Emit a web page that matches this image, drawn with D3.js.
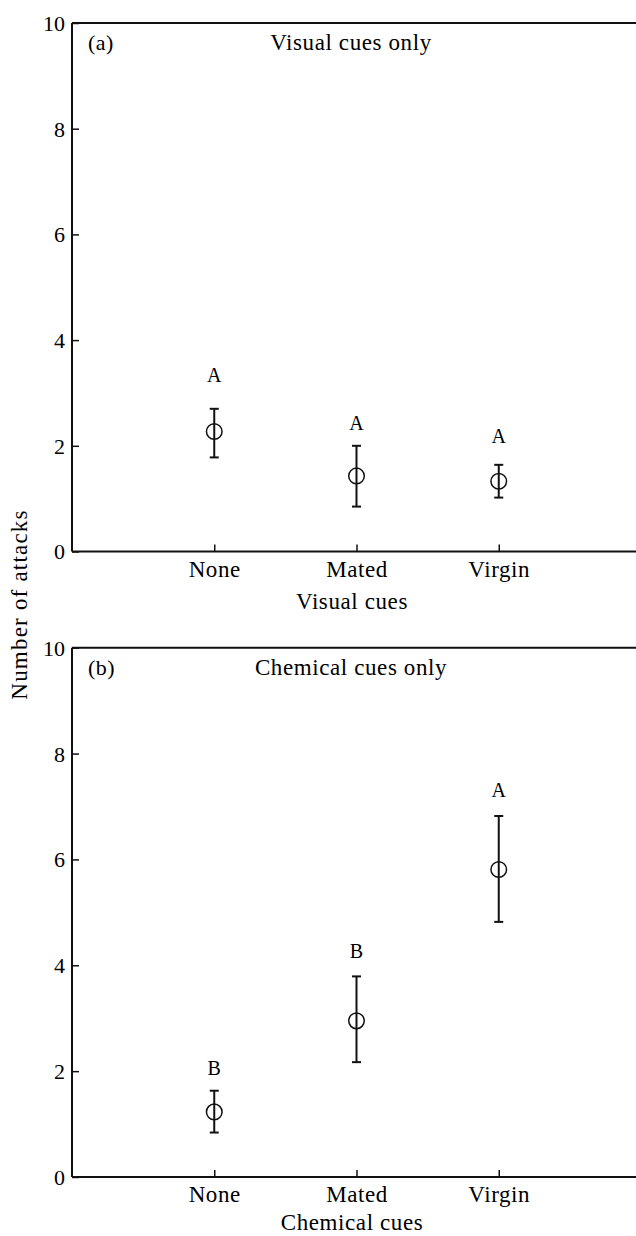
<!DOCTYPE html>
<html>
<head>
<meta charset="utf-8">
<script src="https://cdn.jsdelivr.net/npm/d3@7"></script>
<style>
  html, body { margin: 0; padding: 0; background: #fff; }
  svg { display: block; }
  text { font-family: "Liberation Serif", "Times New Roman", serif; fill: #000; }
</style>
</head>
<body>
<svg id="chart" width="636" height="1236"></svg>
<script>
// ---- data ----
const categories = ["None", "Mated", "Virgin"];
const yTicks = [0, 2, 4, 6, 8, 10];

const panelLabels = ["(a)", "(b)"];
const panelTitles = ["Visual cues only", "Chemical cues only"];
const xTitles = ["Visual cues", "Chemical cues"];
const yTitle = "Number of attacks";

const visualMean  = [2.27, 1.43, 1.33];
const visualLow   = [1.78, 0.85, 1.02];
const visualHigh  = [2.70, 2.00, 1.64];
const visualLetters = ["A", "A", "A"];
const visualLetterY = [3.34, 2.43, 2.19];

const chemMean  = [1.23, 2.95, 5.81];
const chemLow   = [0.84, 2.17, 4.82];
const chemHigh  = [1.63, 3.79, 6.82];
const chemLetters = ["B", "B", "A"];
const chemLetterY = [2.05, 4.26, 7.30];

// ---- layout ----
const svg = d3.select("#chart");
const left = 72, right = 641;
const FS = 23;
const panels = [
  { top: 23,    bottom: 551.5, titleOff: 57,   mean: visualMean, low: visualLow, high: visualHigh, letters: visualLetters, letterY: visualLetterY },
  { top: 647.7, bottom: 1177,  titleOff: 52.5, mean: chemMean,   low: chemLow,   high: chemHigh,   letters: chemLetters,   letterY: chemLetterY }
];

const x = d3.scalePoint().domain(["", ...categories, " "]).range([left, right]);

panels.forEach((p, i) => {
  const y = d3.scaleLinear().domain([0, 10]).range([p.bottom, p.top]);
  const g = svg.append("g");

  // frame (top line)
  g.append("line").attr("x1", left).attr("x2", right)
    .attr("y1", p.top).attr("y2", p.top)
    .attr("stroke", "#111").attr("stroke-width", 2);

  // y axis
  const yAxis = d3.axisLeft(y).tickValues(yTicks).tickSize(-7).tickFormat(d3.format("d"));
  const ya = g.append("g").attr("transform", `translate(${left},0)`).call(yAxis);
  ya.select(".domain").attr("stroke", "#111").attr("stroke-width", 2).attr("d", `M0,${p.top}V${p.bottom}`);
  ya.selectAll(".tick line").attr("stroke", "#111").attr("stroke-width", 1.5);
  ya.selectAll(".tick text").attr("font-size", 22).attr("font-family", "Liberation Serif").attr("fill", "#000")
    .attr("x", -7).attr("dy", "0.34em");

  // x axis
  const xAxis = d3.axisBottom(x).tickValues(categories).tickSize(-7);
  const xa = g.append("g").attr("transform", `translate(0,${p.bottom})`).call(xAxis);
  xa.select(".domain").attr("stroke", "#111").attr("stroke-width", 2).attr("d", `M${left},0H${right}`);
  xa.selectAll(".tick line").attr("stroke", "#111").attr("stroke-width", 1.5);
  xa.selectAll(".tick text").attr("font-size", FS).attr("font-family", "Liberation Serif").attr("fill", "#000")
    .attr("letter-spacing", 0.6).attr("y", 25).attr("dy", 0);

  // x title
  g.append("text").attr("x", 352).attr("y", p.bottom + p.titleOff)
    .attr("text-anchor", "middle").attr("font-size", FS).attr("letter-spacing", 0.6)
    .text(xTitles[i]);

  // panel label & title
  g.append("text").attr("x", 88).attr("y", p.top + 27)
    .attr("font-size", 22).attr("letter-spacing", 0.4)
    .text(panelLabels[i]);
  g.append("text").attr("x", 351).attr("y", p.top + 27)
    .attr("text-anchor", "middle").attr("font-size", FS).attr("letter-spacing", 0.6)
    .text(panelTitles[i]);

  // error bars
  const pts = categories.map((c, k) => ({ c, m: p.mean[k], lo: p.low[k], hi: p.high[k], lab: p.letters[k], ly: p.letterY[k] }));
  const eb = g.selectAll(".eb").data(pts).enter().append("g");
  eb.append("line").attr("x1", d => x(d.c)).attr("x2", d => x(d.c))
    .attr("y1", d => y(d.lo)).attr("y2", d => y(d.hi))
    .attr("stroke", "#111").attr("stroke-width", 2);
  eb.append("line").attr("x1", d => x(d.c) - 4.5).attr("x2", d => x(d.c) + 4.5)
    .attr("y1", d => y(d.hi)).attr("y2", d => y(d.hi))
    .attr("stroke", "#111").attr("stroke-width", 2);
  eb.append("line").attr("x1", d => x(d.c) - 4.5).attr("x2", d => x(d.c) + 4.5)
    .attr("y1", d => y(d.lo)).attr("y2", d => y(d.lo))
    .attr("stroke", "#111").attr("stroke-width", 2);
  eb.append("circle").attr("cx", d => x(d.c)).attr("cy", d => y(d.m)).attr("r", 7.8)
    .attr("fill", "none").attr("stroke", "#111").attr("stroke-width", 1.5);
  eb.append("text").attr("x", d => x(d.c)).attr("y", d => y(d.ly))
    .attr("dy", "0.34em").attr("text-anchor", "middle").attr("font-size", 20)
    .text(d => d.lab);
});

// shared y title
svg.append("text")
  .attr("transform", `translate(27,604.5) rotate(-90)`)
  .attr("text-anchor", "middle").attr("font-size", FS).attr("letter-spacing", 1.2)
  .text(yTitle);
</script>
</body>
</html>
